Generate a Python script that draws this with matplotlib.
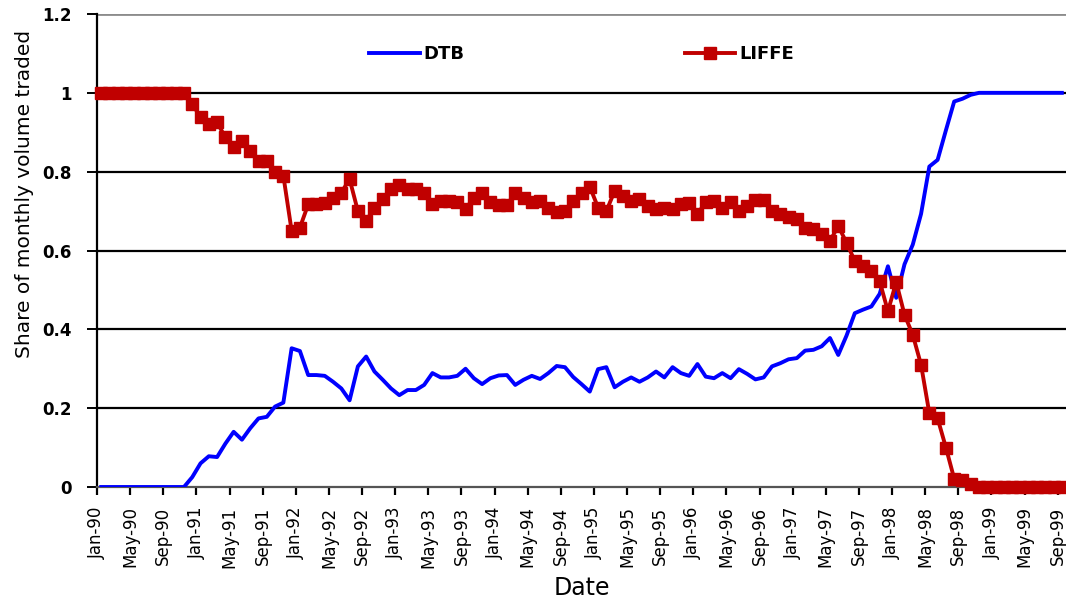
import matplotlib
matplotlib.use("Agg")
import matplotlib.pyplot as plt
import numpy as np

tick_labels = ["Jan-90", "May-90", "Sep-90", "Jan-91", "May-91", "Sep-91",
               "Jan-92", "May-92", "Sep-92", "Jan-93", "May-93", "Sep-93",
               "Jan-94", "May-94", "Sep-94", "Jan-95", "May-95", "Sep-95",
               "Jan-96", "May-96", "Sep-96", "Jan-97", "May-97", "Sep-97",
               "Jan-98", "May-98", "Sep-98", "Jan-99", "May-99", "Sep-99"]

dtb = [0, 0, 0, 0, 0, 0, 0, 0, 0, 0, 0,
       0.025, 0.06, 0.078, 0.076, 0.11, 0.14, 0.12, 0.149, 0.174, 0.178,
       0.204, 0.214, 0.352, 0.345, 0.284, 0.284, 0.282, 0.267, 0.25, 0.22,
       0.306, 0.331, 0.293, 0.272, 0.25, 0.233, 0.246, 0.246, 0.259, 0.289,
       0.278, 0.278, 0.282, 0.30, 0.276, 0.261, 0.276, 0.283, 0.284, 0.259,
       0.272, 0.282, 0.274, 0.289, 0.307, 0.304, 0.279, 0.261, 0.242, 0.299,
       0.304, 0.253, 0.267, 0.278, 0.267, 0.278, 0.293, 0.278, 0.304, 0.289,
       0.282, 0.312, 0.28, 0.276, 0.289, 0.276, 0.299, 0.287, 0.273, 0.278,
       0.306, 0.314, 0.324, 0.327, 0.346, 0.348, 0.357, 0.378, 0.335, 0.384,
       0.441, 0.45, 0.458, 0.49, 0.56, 0.48, 0.565, 0.615, 0.693, 0.813,
       0.83, 0.905, 0.978, 0.985, 0.995,
       1, 1, 1, 1, 1, 1, 1, 1, 1, 1, 1]

liffe = [1, 1, 1, 1, 1, 1, 1, 1, 1, 1, 1,
         0.972, 0.938, 0.921, 0.925, 0.887, 0.862, 0.879, 0.853, 0.828, 0.826,
         0.798, 0.79, 0.65, 0.658, 0.717, 0.717, 0.72, 0.734, 0.747, 0.781,
         0.70, 0.675, 0.709, 0.73, 0.755, 0.766, 0.755, 0.757, 0.745, 0.717,
         0.726, 0.726, 0.723, 0.705, 0.734, 0.747, 0.724, 0.715, 0.715, 0.747,
         0.734, 0.722, 0.726, 0.709, 0.698, 0.70, 0.726, 0.747, 0.762, 0.709,
         0.70, 0.751, 0.739, 0.726, 0.73, 0.713, 0.705, 0.709, 0.705, 0.717,
         0.72, 0.693, 0.722, 0.726, 0.709, 0.722, 0.70, 0.713, 0.728, 0.728,
         0.70, 0.692, 0.686, 0.679, 0.658, 0.654, 0.643, 0.624, 0.662, 0.62,
         0.573, 0.56, 0.548, 0.522, 0.446, 0.52, 0.437, 0.386, 0.31, 0.187,
         0.174, 0.10, 0.021, 0.017, 0.008,
         0, 0, 0, 0, 0, 0, 0, 0, 0, 0, 0]

W, H = 1066, 616
fig = plt.figure(figsize=(W / 100, H / 100), dpi=100)
ax = fig.add_axes([97 / W, 1 - 487 / H, 1 - 97 / W, (487 - 14) / H])

x = np.arange(len(dtb)) + 0.5
ax.plot(x, dtb, color="#0000FF", lw=2.8, label="DTB", zorder=3,
        solid_joinstyle="round")
ax.plot(x, liffe, color="#C00000", lw=2.8, marker="s", ms=9,
        label="LIFFE", zorder=4, clip_on=False)

ax.set_xlim(0, 117)
ax.set_ylim(0, 1.2)

yt = [0, 0.2, 0.4, 0.6, 0.8, 1.0, 1.2]
ax.set_yticks(yt)
ax.set_yticklabels(["0", "0.2", "0.4", "0.6", "0.8", "1", "1.2"],
                   fontsize=12, fontweight="bold")
ax.set_xticks(np.arange(len(tick_labels)) * 4)
ax.set_xticklabels(tick_labels, rotation=90, fontsize=12,
                   fontfamily="DejaVu Sans")

ax.yaxis.grid(True, color="black", lw=1.6, zorder=1)
gl = ax.get_ygridlines()
gl[0].set_visible(False)
gl[-1].set_color("#8c8c8c")
gl[-1].set_linewidth(2)

for s in ["top", "right"]:
    ax.spines[s].set_visible(False)
ax.spines["left"].set_color("black")
ax.spines["left"].set_linewidth(1.6)
ax.spines["bottom"].set_color("#555555")
ax.spines["bottom"].set_linewidth(1.6)
ax.tick_params(axis="y", length=7, width=1.4, direction="out", pad=11)
ax.tick_params(axis="x", length=6, width=1.6, direction="out", pad=8)

fig.text(25 / W, 1 - 194 / H, "Share of monthly volume traded",
         rotation=90, ha="center", va="center", fontsize=14.5)
ax.set_xlabel("Date", fontsize=17, labelpad=6)

leg = ax.legend(loc="center", bbox_to_anchor=(0.5, 0.915), ncol=2,
                frameon=False, handlelength=2.8, handletextpad=0.2,
                columnspacing=12.2,
                prop={"weight": "bold", "size": 13})

fig.savefig("out.png", dpi=100)
